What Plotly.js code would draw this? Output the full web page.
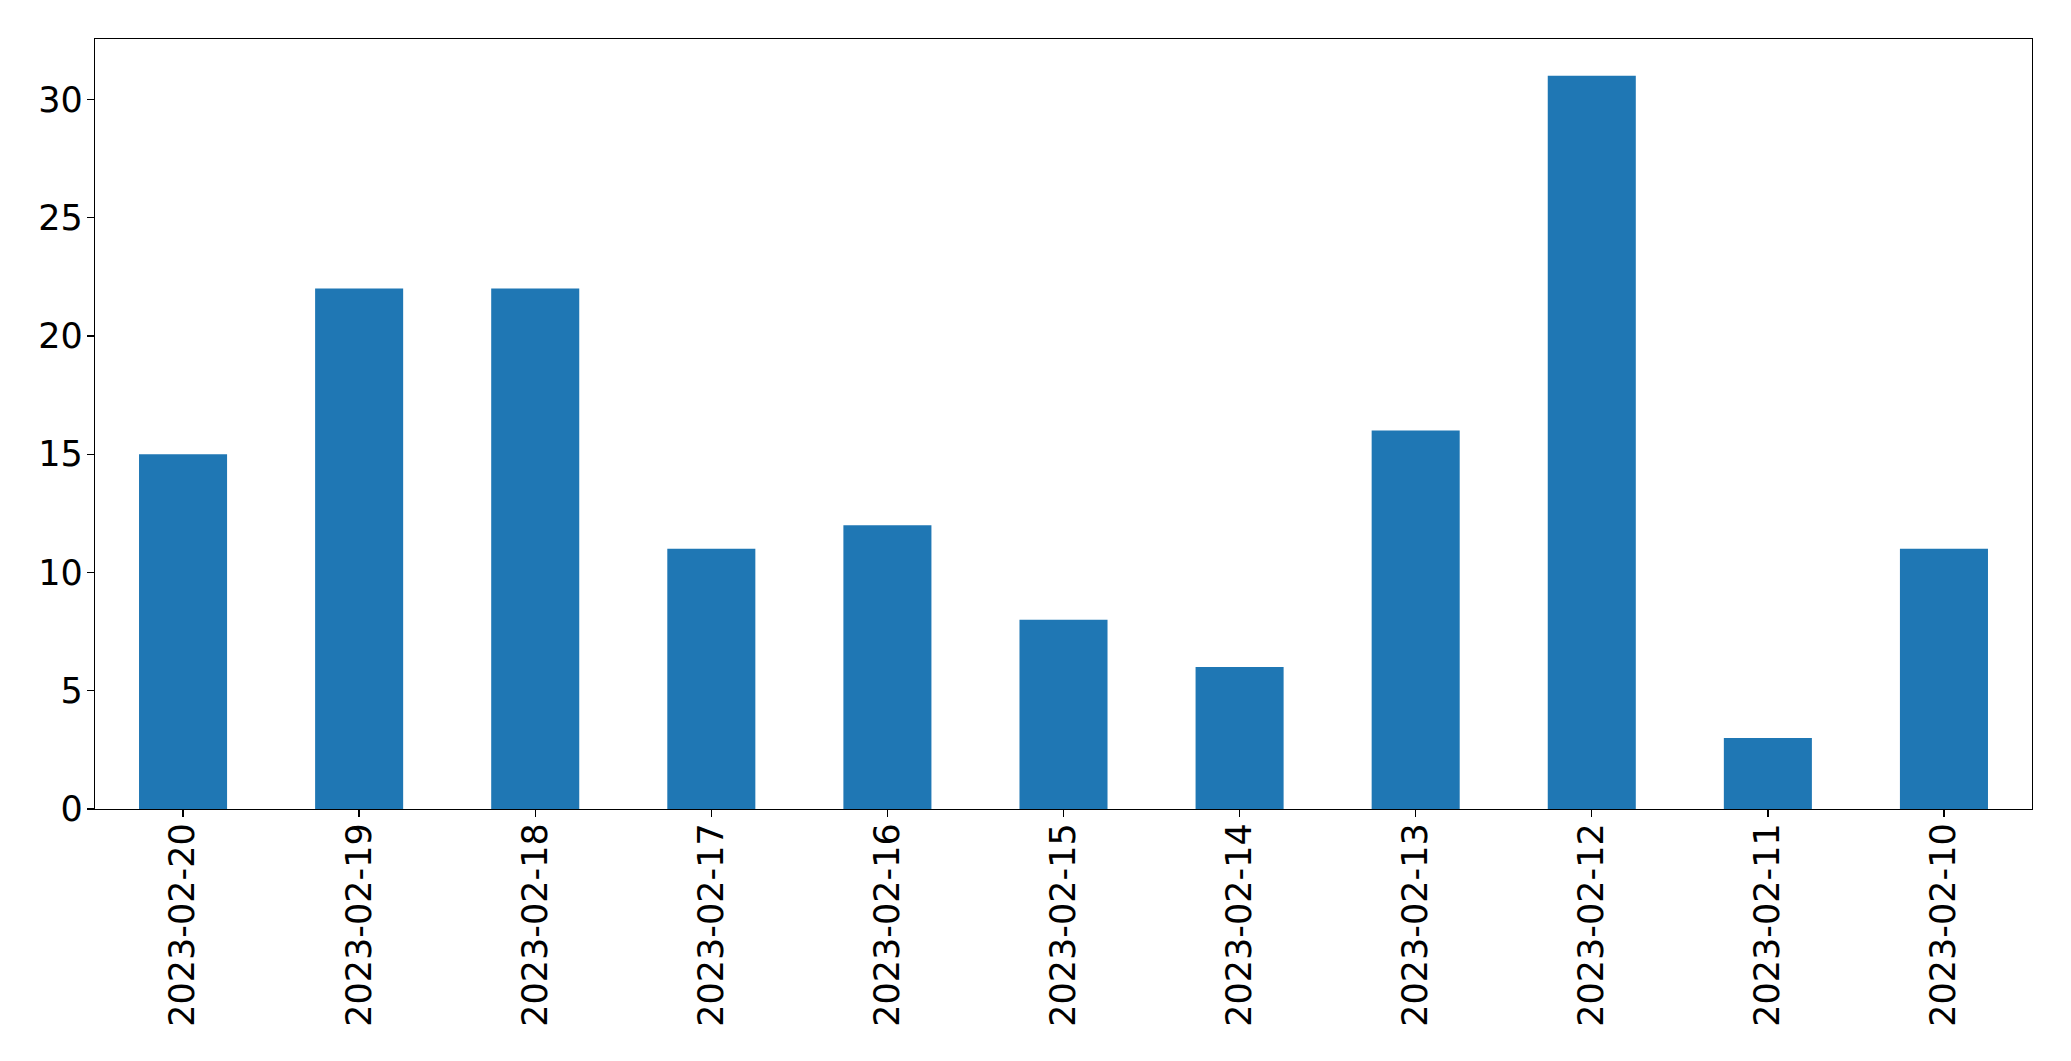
<!DOCTYPE html>
<html>
<head>
<meta charset="utf-8">
<script src="https://cdn.plot.ly/plotly-3.0.1.min.js"></script>
<style>html,body{margin:0;padding:0;background:#fff;}#chart{width:2071px;height:1061px;}</style>
</head>
<body>
<div id="chart"></div>
<script>
const dates = ["2023-02-20","2023-02-19","2023-02-18","2023-02-17","2023-02-16","2023-02-15","2023-02-14","2023-02-13","2023-02-12","2023-02-11","2023-02-10"];
const counts = [15, 22, 22, 11, 12, 8, 6, 16, 31, 3, 11];
const yTicks = [0, 5, 10, 15, 20, 25, 30];

const trace = {
  type: "bar",
  x: dates,
  y: counts,
  width: 0.5,
  marker: {color: "#1f77b4", line: {width: 0}},
  hoverinfo: "x+y"
};

const font = {family: "DejaVu Sans, sans-serif", size: 35, color: "#000"};

const layout = {
  width: 2071,
  height: 1061,
  margin: {l: 95, r: 39, t: 39, b: 252, pad: 0},
  paper_bgcolor: "#fff",
  plot_bgcolor: "#fff",
  showlegend: false,
  bargap: 0.5,
  xaxis: {
    type: "category",
    range: [-0.5, 10.5],
    tickangle: -90,
    ticks: "outside",
    ticklen: 7,
    tickwidth: 1.3,
    tickcolor: "#000",
    showline: true,
    linecolor: "#000",
    linewidth: 1.3,
    mirror: true,
    showgrid: false,
    zeroline: false,
    tickfont: font,
    ticklabelstandoff: -8
  },
  yaxis: {
    range: [0, 32.55],
    tickvals: yTicks,
    ticktext: yTicks.map(String),
    ticks: "outside",
    ticklen: 7,
    tickwidth: 1.3,
    tickcolor: "#000",
    showline: true,
    linecolor: "#000",
    linewidth: 1.3,
    mirror: true,
    showgrid: false,
    zeroline: false,
    tickfont: font,
    ticklabelstandoff: -3
  }
};

Plotly.newPlot("chart", [trace], layout, {displayModeBar: false, staticPlot: true});
</script>
</body>
</html>
